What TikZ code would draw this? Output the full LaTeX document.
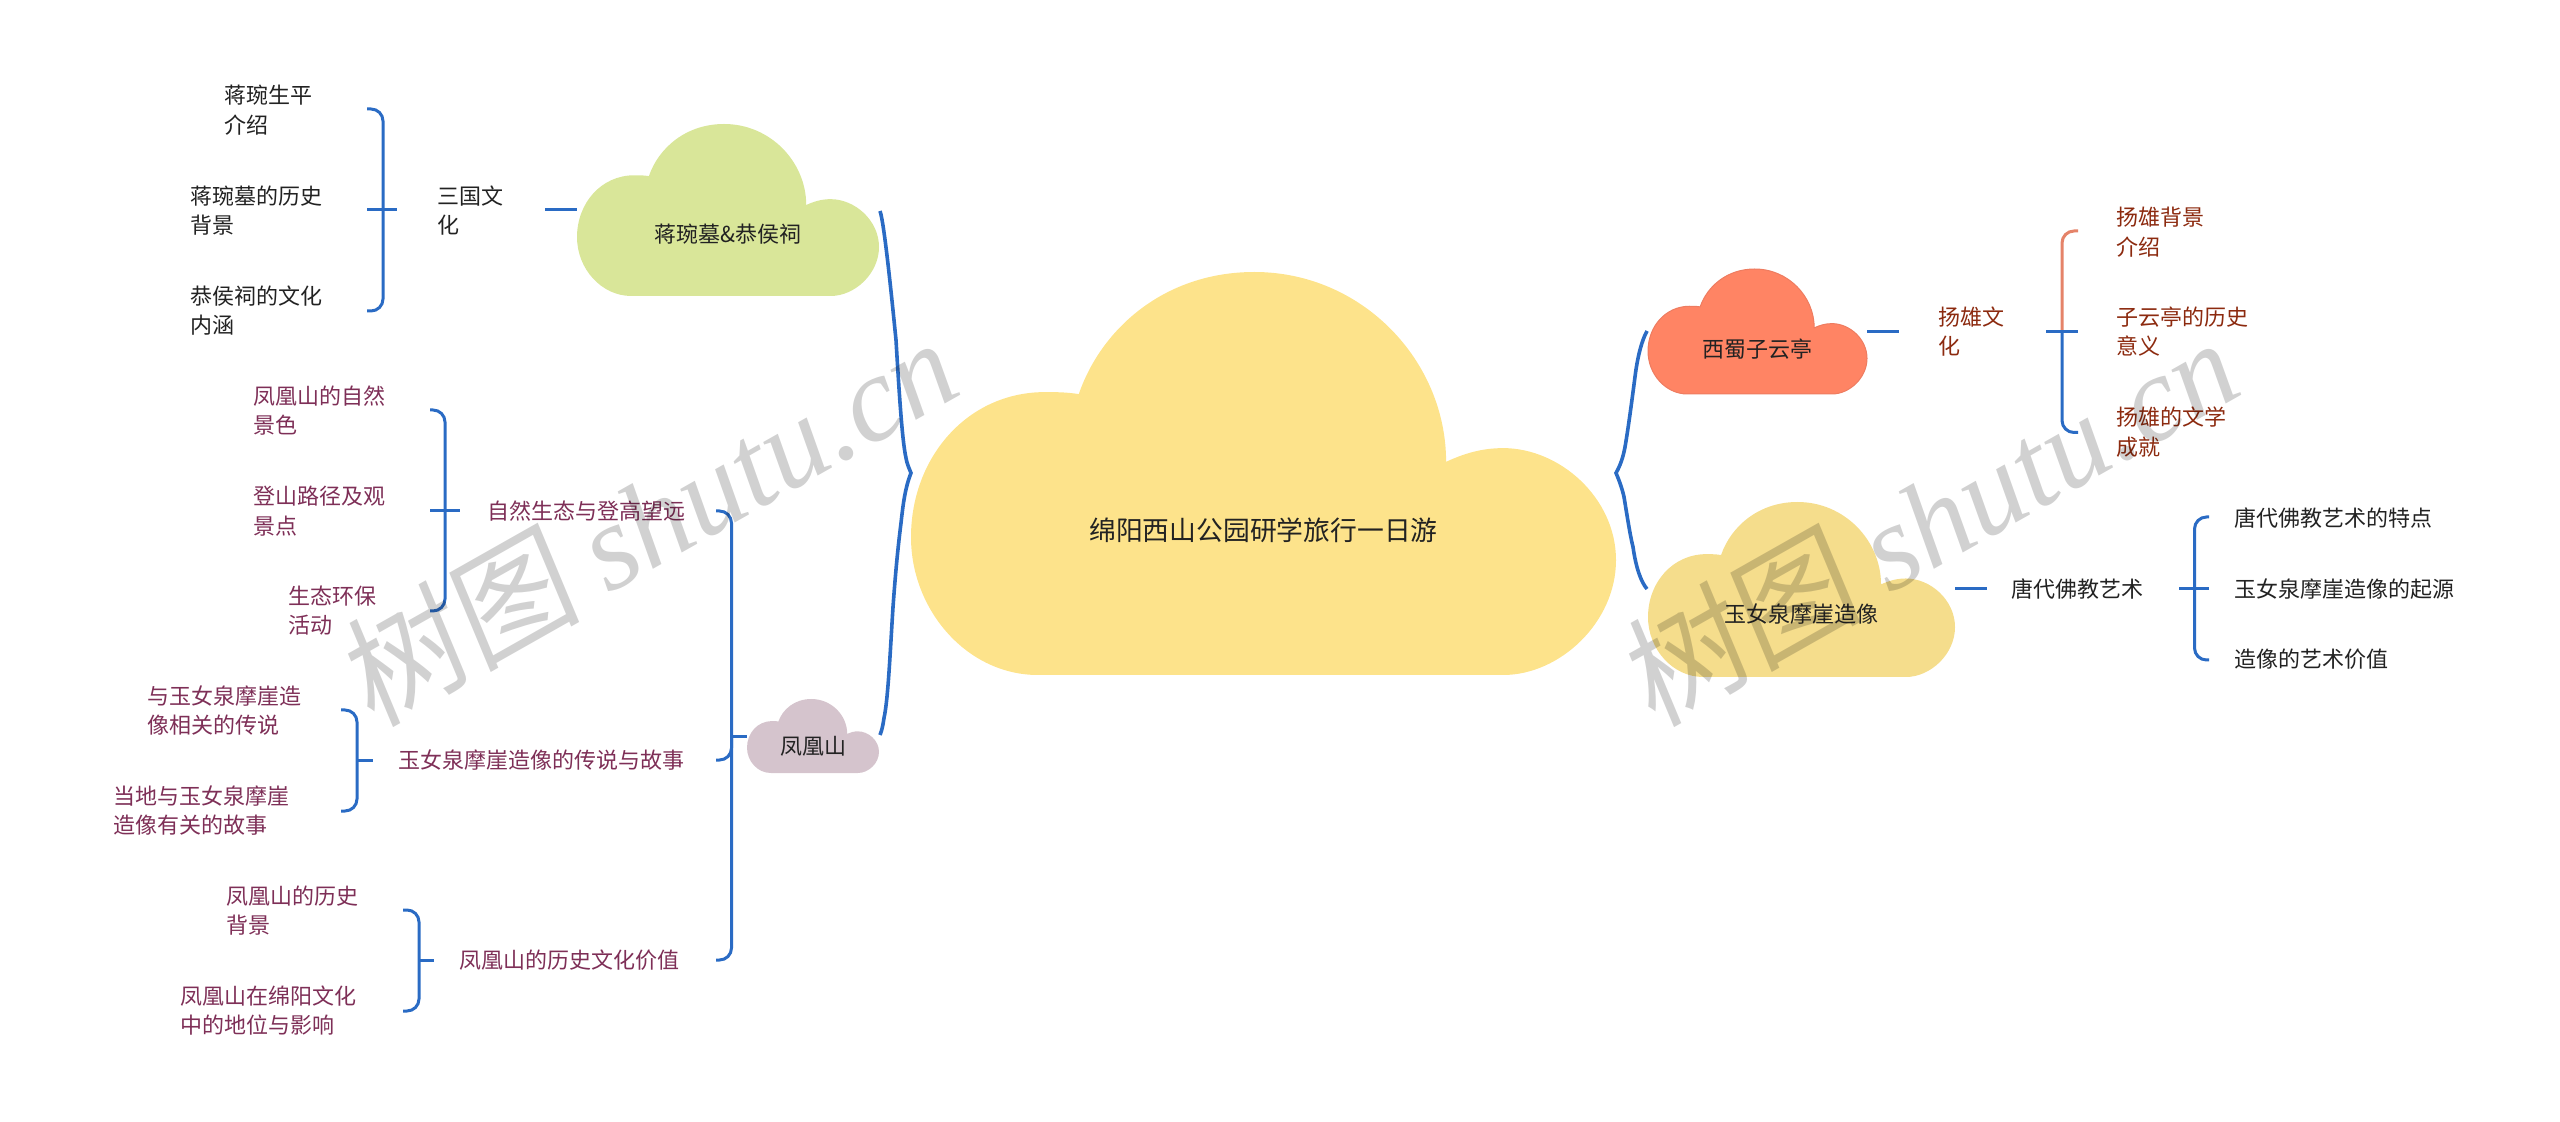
\documentclass[tikz,border=0pt]{standalone}
\usepackage{fontspec}
\setmainfont{Noto Sans CJK SC}
\newfontfamily\wmcjk[FakeSlant=0.12]{Noto Sans CJK SC}
\newfontfamily\wmlat{Liberation Serif}
\definecolor{cmain}{HTML}{FDE38B}
\definecolor{cjiang}{HTML}{D9E699}
\definecolor{cfeng}{HTML}{D5C4CD}
\definecolor{cxi}{HTML}{FF8464}
\definecolor{cxiedge}{HTML}{EE7C60}
\definecolor{cyu}{HTML}{F5DD8C}
\definecolor{lblue}{HTML}{2A6BC4}
\definecolor{lorange}{HTML}{E58369}
\definecolor{tink}{HTML}{222222}
\definecolor{tpink}{HTML}{7E2F57}
\definecolor{tred}{HTML}{8C2A0F}
\tikzset{
  x=0.5pt,y=-0.5pt,
  lbl/.style={inner sep=0pt,anchor=west,align=left,font=\fontsize{11}{14.75}\selectfont,text=tink},
  pinklbl/.style={lbl,text=tpink},
  redlbl/.style={lbl,text=tred},
  ctext/.style={inner sep=0pt,anchor=center,font=\fontsize{11}{14.75}\selectfont,text=tink},
  conn/.style={draw=lblue,line width=1.5pt},
  brace/.style={draw=lblue,line width=1.8pt},
  wm/.style={inner sep=0pt,text=black,text opacity=0.18,font=\fontsize{61}{68}\selectfont}
}
% name, left, top, width, height, colour, text, font size
\newcommand\cloudnode[8]{%
  \begin{scope}[shift={(#2,#3)},x={#4*0.5pt},y={#5*-0.5pt}]
    \fill[#6] (.18,1) .. controls (.08,1) and (0,.84) .. (0,.658)
      .. controls (0,.46) and (.08,.298) .. (.19,.298)
      .. controls (.205,.298) and (.22,.298) .. (.238,.303)
      .. controls (.27,.14) and (.36,0) .. (.487,0)
      .. controls (.64,0) and (.759,.22) .. (.759,.471)
      .. controls (.785,.45) and (.81,.437) .. (.84,.437)
      .. controls (.92,.437) and (1,.56) .. (1,.715)
      .. controls (1,.87) and (.92,1) .. (.84,1) -- cycle;
    \node[ctext,font=\fontsize{#8}{#8}\selectfont] (#1) at (.5,.64) {#7};
  \end{scope}}
% name, x of spine, x of tick ends, x of far end of middle tick, y top, y mid, y bottom, x of near end of middle tick
\newcommand\bracketset[8]{%
  \coordinate (#1-t) at (#3,#5);
  \coordinate (#1-tc) at (#2,#5);
  \coordinate (#1-bc) at (#2,#7);
  \coordinate (#1-b) at (#3,#7);
  \coordinate (#1-l) at (#8,#6);
  \coordinate (#1-r) at (#4,#6);
  \draw[conn,rounded corners=6pt] (#1-t) -- (#1-tc) -- (#1-bc) -- (#1-b);
  \draw[conn] (#1-l) -- (#1-r);}
\begin{document}
\begin{tikzpicture}
\useasboundingbox (0,0) rectangle (2560,1122);
% clouds
\cloudnode{root}{911}{272}{705}{403}{cmain}{绵阳西山公园研学旅行一日游}{13.4}
\cloudnode{jiang}{577}{124}{302}{172}{cjiang}{蒋琬墓\&恭侯祠}{11}
\cloudnode{feng}{747}{699}{132}{74}{cfeng}{凤凰山}{11}
\cloudnode{xishu}{1648}{269}{219}{125}{cxi,draw=cxiedge,line width=.5pt}{西蜀子云亭}{11}
\cloudnode{yunv}{1648}{502}{307}{175}{cyu}{玉女泉摩崖造像}{11}
% main braces
\coordinate (lb-t) at (880,211);
\coordinate (lb-tip) at (911,473);
\coordinate (lb-b) at (880,735);
\coordinate (rb-t) at (1647,331);
\coordinate (rb-tip) at (1616,473);
\coordinate (rb-b) at (1647,589);
\draw[brace] (lb-t) .. controls (884,222) and (891,290) .. (896,340)
  .. controls (899,390) and (902,440) .. (906,458)
  .. controls (907,464) and (909,468) .. (lb-tip)
  .. controls (905,488) and (903,505) .. (901,523)
  .. controls (897,555) and (895,580) .. (893,607)
  .. controls (890,655) and (888,700) .. (884,718)
  .. controls (883,725) and (882,730) .. (lb-b);
\draw[brace] (rb-t) .. controls (1642,340) and (1638,355) .. (1635.5,373)
  .. controls (1632,400) and (1628,430) .. (1625,447)
  .. controls (1623,458) and (1620,466) .. (rb-tip)
  .. controls (1619,480) and (1622,488) .. (1624,497)
  .. controls (1627,515) and (1630,535) .. (1633,547)
  .. controls (1636,568) and (1641,582) .. (rb-b);
% brackets
\bracketset{bsan}{383}{367}{397}{109}{210}{311}{367}
\bracketset{bzi}{445}{430}{460}{410}{511}{611}{430}
\bracketset{byu}{357}{341}{373}{710}{760}{811}{357}
\bracketset{bli}{419}{403}{434}{910}{960}{1011}{419}
\bracketset{btang}{2194.5}{2209}{2179}{517}{589}{660}{2209}
% big bracket of the phoenix branch
\coordinate (bf-t) at (716,511);
\coordinate (bf-tc) at (731.5,511);
\coordinate (bf-bc) at (731.5,960);
\coordinate (bf-b) at (716,960);
\coordinate (bf-m) at (716,760);
\coordinate (bf-mc) at (731.5,760);
\coordinate (bf-mu) at (731.5,735);
\coordinate (bf-s) at (731.5,736);
\draw[conn,rounded corners=6pt] (bf-t) -- (bf-tc) -- (bf-bc) -- (bf-b);
\draw[conn,rounded corners=6pt] (bf-m) -- (bf-mc) -- (bf-mu);
\coordinate (feng-w) at (747,736);
\draw[conn] (bf-s) -- (feng-w);
% yang xiong bracket, two colours
\coordinate (bx-t) at (2078,231);
\coordinate (bx-tc) at (2062,231);
\coordinate (bx-c) at (2062,332);
\coordinate (bx-bc) at (2062,432.5);
\coordinate (bx-b) at (2078,432.5);
\coordinate (bx-l) at (2046,332);
\coordinate (bx-r) at (2078,332);
\draw[conn,draw=lorange,rounded corners=6pt] (bx-t) -- (bx-tc) -- (bx-c);
\draw[conn,rounded corners=6pt] (bx-c) -- (bx-bc) -- (bx-b);
\draw[conn] (bx-l) -- (bx-r);
% stubs
\coordinate (s1a) at (545,210); \coordinate (s1b) at (577,210);
\draw[conn] (s1a) -- (s1b);
\coordinate (s2a) at (1867,332); \coordinate (s2b) at (1899,332);
\draw[conn] (s2a) -- (s2b);
\coordinate (s3a) at (1955,589); \coordinate (s3b) at (1987,589);
\draw[conn] (s3a) -- (s3b);
% labels, upper left
\node[lbl] (a1) at (224.5,110) {蒋琬生平\\介绍};
\node[lbl] (a2) at (190,210.5) {蒋琬墓的历史\\背景};
\node[lbl] (a3) at (190,310.5) {恭侯祠的文化\\内涵};
\node[lbl] (a0) at (437,210.5) {三国文\\化};
% labels, phoenix
\node[pinklbl] (b1) at (253,410.5) {凤凰山的自然\\景色};
\node[pinklbl] (b2) at (253,511) {登山路径及观\\景点};
\node[pinklbl] (b3) at (288,610.5) {生态环保\\活动};
\node[pinklbl] (b0) at (487,511) {自然生态与登高望远};
\node[pinklbl] (c1) at (147,710.5) {与玉女泉摩崖造\\像相关的传说};
\node[pinklbl] (c2) at (113,810.5) {当地与玉女泉摩崖\\造像有关的故事};
\node[pinklbl] (c0) at (398,760) {玉女泉摩崖造像的传说与故事};
\node[pinklbl] (d1) at (226,910.5) {凤凰山的历史\\背景};
\node[pinklbl] (d2) at (180,1010.5) {凤凰山在绵阳文化\\中的地位与影响};
\node[pinklbl] (d0) at (459,960) {凤凰山的历史文化价值};
% labels, right
\node[redlbl] (e0) at (1938,331.5) {扬雄文\\化};
\node[redlbl] (e1) at (2116,232) {扬雄背景\\介绍};
\node[redlbl] (e2) at (2116,331.5) {子云亭的历史\\意义};
\node[redlbl] (e3) at (2116,432) {扬雄的文学\\成就};
\node[lbl] (f0) at (2011.5,589) {唐代佛教艺术};
\node[lbl] (f1) at (2234,518) {唐代佛教艺术的特点};
\node[lbl] (f2) at (2234,589) {玉女泉摩崖造像的起源};
\node[lbl] (f3) at (2234,659) {造像的艺术价值};
% watermarks
\node[wm,anchor=center,rotate=29.5] (wm1) at (646,520) {{\wmcjk 树图} {\wmlat\itshape shutu.cn}};
\node[wm,anchor=center,rotate=29.5] (wm2) at (1927,520) {{\wmcjk 树图} {\wmlat\itshape shutu.cn}};
\end{tikzpicture}
\end{document}
